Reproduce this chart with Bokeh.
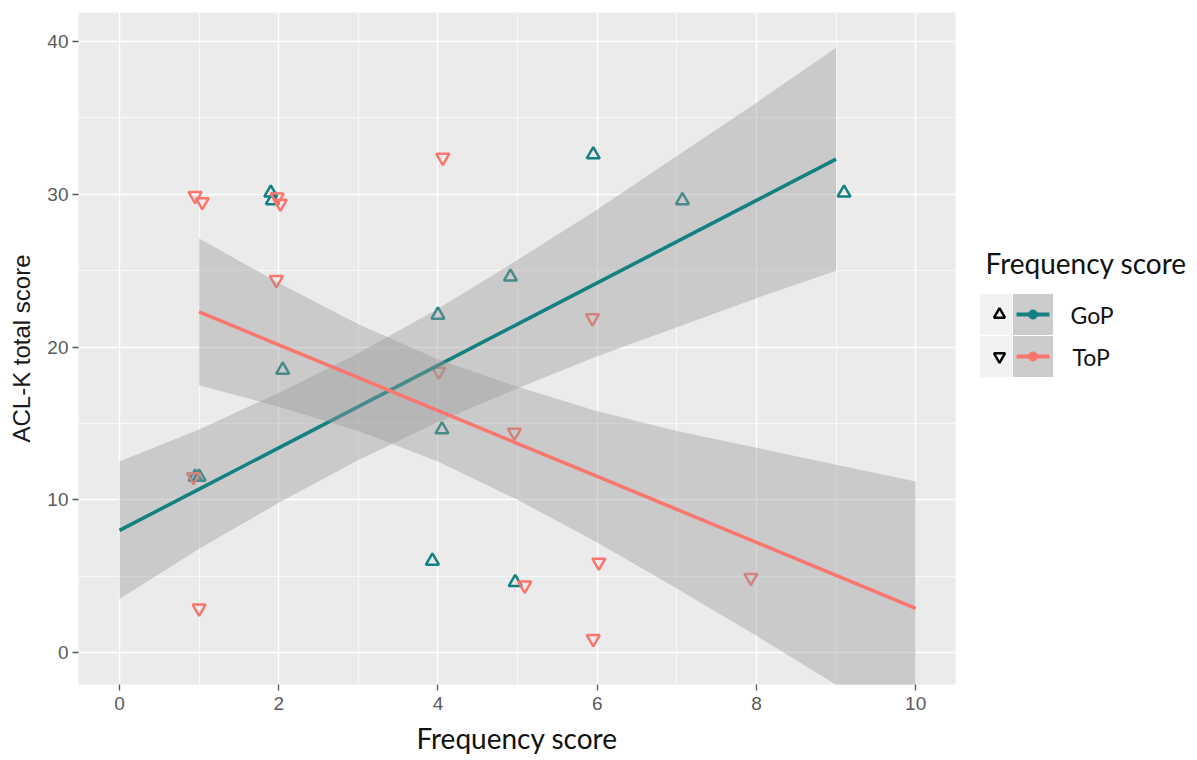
from bokeh.plotting import figure
from bokeh.models import Range1d, FixedTicker
from bokeh.layouts import row
from bokeh.embed import file_html
from bokeh.resources import INLINE
from bokeh.core.properties import value

# ---- data (jittered point positions) ----
gop_x = [0.95, 1.00, 1.90, 1.92, 2.05, 4.00, 4.05, 3.93, 4.91, 4.97, 5.95, 7.07, 9.10]
gop_y = [11.5, 11.5, 30.1, 29.6, 18.5, 22.1, 14.6, 6.0, 24.6, 4.6, 32.6, 29.6, 30.1]
top_x = [0.93, 1.00, 0.95, 1.04, 1.98, 2.02, 1.97, 4.06, 4.01, 4.96, 5.09, 5.94, 6.02, 5.95, 7.93]
top_y = [11.5, 2.9, 29.9, 29.5, 29.8, 29.4, 24.4, 32.4, 18.4, 14.4, 4.4, 21.9, 5.9, 0.9, 4.9]

# fitted lines and confidence bands
gop_fit_x = [0, 1, 2, 3, 4, 5, 6, 7, 8, 9]
gop_fit_y = [8.0, 10.7, 13.4, 16.1, 18.8, 21.5, 24.2, 26.9, 29.6, 32.3]
gop_lo = [3.5, 6.8, 9.8, 12.6, 15.1, 17.3, 19.4, 21.3, 23.2, 25.0]
gop_hi = [12.5, 14.6, 17.0, 19.6, 22.5, 25.7, 29.0, 32.5, 36.0, 39.6]

top_fit_x = [1, 2, 3, 4, 5, 6, 7, 8, 9, 10]
top_fit_y = [22.3, 20.15, 18.0, 15.84, 13.68, 11.53, 9.37, 7.21, 5.06, 2.9]
top_lo = [17.5, 16.1, 14.5, 12.5, 10.0, 7.2, 4.2, 1.1, -2.1, -5.4]
top_hi = [27.1, 24.2, 21.5, 19.2, 17.4, 15.8, 14.5, 13.4, 12.3, 11.2]

x_ticks = [0, 2, 4, 6, 8, 10]
y_ticks = [0, 10, 20, 30, 40]
groups = ["GoP", "ToP"]
legend_title = "Frequency score"

TEAL = "#148080"
SALMON = "#F8766D"
H = 757
TOP = 12

p = figure(width=960, height=H, output_backend="svg", toolbar_location=None,
           x_range=Range1d(-0.515, 10.5), y_range=Range1d(-2.09, 41.9),
           min_border_left=78, min_border_right=5, min_border_top=TOP, min_border_bottom=72)
p.background_fill_color = "#EBEBEB"
p.border_fill_color = "white"
p.outline_line_color = None

p.xaxis.ticker = FixedTicker(ticks=x_ticks, minor_ticks=[1, 3, 5, 7, 9])
p.yaxis.ticker = FixedTicker(ticks=y_ticks, minor_ticks=[5, 15, 25, 35])
for g in (p.xgrid, p.ygrid):
    g.grid_line_color = "white"
    g.grid_line_width = 1.4
    g.minor_grid_line_color = "white"
    g.minor_grid_line_width = 0.7
for ax in (p.xaxis, p.yaxis):
    ax.axis_line_color = None
    ax.major_tick_line_color = "#555555"
    ax.major_tick_line_width = 1.3
    ax.major_tick_out = 6
    ax.major_tick_in = 0
    ax.minor_tick_line_color = None
    ax.major_label_text_font = "Liberation Sans"
    ax.major_label_text_font_size = "19px"
    ax.major_label_text_color = "#5A5A5A"
p.yaxis.major_label_standoff = 4
p.xaxis.major_label_standoff = 6

p.yaxis.axis_label = "ACL-K total score"
p.yaxis.axis_label_text_font = "Liberation Sans"
p.yaxis.axis_label_text_font_size = "24px"
p.yaxis.axis_label_text_font_style = "normal"
p.yaxis.axis_label_text_color = "#1A1A1A"
p.yaxis.axis_label_standoff = 9

p.xaxis.axis_label = "Frequency score"
p.xaxis.axis_label_text_font = "Lato"
p.xaxis.axis_label_text_font_size = "28px"
p.xaxis.axis_label_text_font_style = "normal"
p.xaxis.axis_label_text_color = "#111111"
p.xaxis.axis_label_standoff = 8

# points
p.scatter(gop_x, gop_y, marker="triangle", size=13, fill_color=None,
          line_color=TEAL, line_width=2.5)
p.scatter(top_x, top_y, marker="inverted_triangle", size=13, fill_color=None,
          line_color=SALMON, line_width=2.5)

# smooths
p.varea(x=gop_fit_x, y1=gop_lo, y2=gop_hi, fill_color="#999999", fill_alpha=0.4)
p.line(gop_fit_x, gop_fit_y, line_color=TEAL, line_width=3.5)
p.varea(x=top_fit_x, y1=top_lo, y2=top_hi, fill_color="#999999", fill_alpha=0.4)
p.line(top_fit_x, top_fit_y, line_color=SALMON, line_width=3.5)

# ---- legend panel (separate figure; its frame is aligned with the plot frame top) ----
leg = figure(title=None, frame_width=229, frame_height=H - TOP, output_backend="svg",
             toolbar_location=None, x_range=Range1d(0, 229), y_range=Range1d(H, TOP),
             x_axis_type=None, y_axis_type=None, min_border=0)
leg.grid.visible = False
leg.outline_line_color = None
leg.background_fill_color = "white"
leg.border_fill_color = "white"

leg.text(x=[25], y=[262], text=[legend_title], text_font=value("Lato"),
         text_font_size="28px", text_baseline="middle", text_align="left", text_color="#111111")
row_y = [314, 356]
leg.rect(x=[35.5, 35.5], y=row_y, width=33, height=42, fill_color="#F2F2F2",
         line_color="white", line_width=1)
leg.rect(x=[72.5, 72.5], y=row_y, width=41, height=42, fill_color="#CCCCCC",
         line_color="white", line_width=1)
leg.scatter(x=[39], y=[row_y[0]], marker="triangle", size=11, fill_color=None,
            line_color="black", line_width=2.4)
leg.scatter(x=[39], y=[row_y[1]], marker="inverted_triangle", size=11, fill_color=None,
            line_color="black", line_width=2.4)
for yy, col in zip(row_y, [TEAL, SALMON]):
    leg.line(x=[56, 89], y=[yy, yy], line_color=col, line_width=4)
    leg.scatter(x=[72.5], y=[yy], marker="circle", size=9, fill_color=col, line_color=col)
leg.text(x=[110, 112], y=row_y, text=groups, text_font=value("Lato"),
         text_font_size="23px", text_baseline="middle", text_align="left", text_color="#111111")

layout = row(p, leg)
open("out.html", "w").write(file_html(layout, INLINE))
